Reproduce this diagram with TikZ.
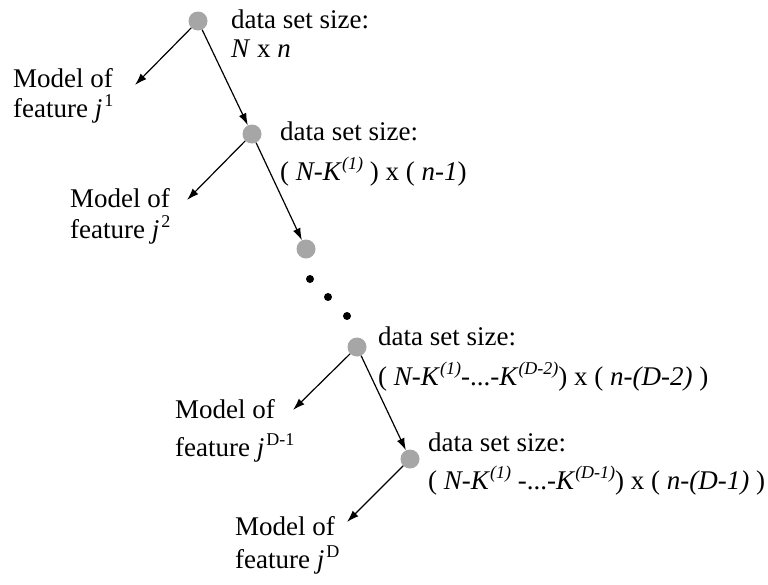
\documentclass[tikz,border=0pt]{standalone}
\usepackage{fontspec}
\setmainfont{Liberation Serif}
\usetikzlibrary{arrows.meta}

\newcommand{\up}[1]{\raisebox{11pt}{\fontsize{18}{18}\selectfont #1}}
\newcommand{\iup}[1]{\raisebox{11pt}{\fontsize{18}{18}\selectfont\itshape #1}}

\tikzset{
  dot/.style={circle, fill=gray!70, inner sep=0pt, minimum size=19pt},
  ell/.style={circle, fill=black, inner sep=0pt, minimum size=8pt},
  txt/.style={anchor=base west, inner sep=0pt, font=\fontsize{27}{33}\selectfont},
  arr/.style={-{Latex[length=12pt,width=8pt]}, line width=1.2pt}
}

\begin{document}
\begin{tikzpicture}[x=1pt,y=-1pt]
\useasboundingbox (0,0) rectangle (768,584);

% splitting points
\node[dot] (n1) at (198,21) {};
\node[dot] (n2) at (252,134) {};
\node[dot] (n3) at (306,249) {};
\node[dot] (n4) at (357,347) {};
\node[dot] (n5) at (410,459) {};

% dots in between
\foreach \i/\x/\y in {1/310/279, 2/328/297, 3/347/316}
  \node[ell] (e\i) at (\x,\y) {};

% data set sizes
\node[txt] (l1a) at (231,28) {data set size:};
\node[txt] (l1b) at (231,57) {\textit{N} x \textit{n}};
\node[txt] (l2a) at (280,140) {data set size:};
\node[txt] (l2b) at (280,180) {( \textit{N-K}\iup{(1)} ) x ( \textit{n-1})};
\node[txt] (l4a) at (378,345) {data set size:};
\node[txt] (l4b) at (378,385) {( \textit{N-K}\iup{(1)}-...-\textit{K}\iup{(D-2)}) x ( \textit{n-(D-2)} )};
\node[txt] (l5a) at (428,451) {data set size:};
\node[txt] (l5b) at (428,489) {( \textit{N-K}\iup{(1)} -...-\textit{K}\iup{(D-1)}) x ( \textit{n-(D-1)} )};

% models
\node[txt] (m1a) at (13,87) {Model of};
\node[txt] (m1b) at (13,117) {feature \textit{j}\kern2pt\up{1}};
\node[txt] (m2a) at (70,207) {Model of};
\node[txt] (m2b) at (70,238) {feature \textit{j}\kern2pt\up{2}};
\node[txt] (m4a) at (175,418) {Model of};
\node[txt] (m4b) at (175,456) {feature \textit{j}\kern2pt\up{D-1}};
\node[txt] (m5a) at (235,535) {Model of};
\node[txt] (m5b) at (235,568) {feature \textit{j}\kern2pt\up{D}};

% arrow ends
\coordinate (t1) at (135,85);
\coordinate (t2) at (187,200);
\coordinate (t4) at (293,410);
\coordinate (t5) at (347,522);

% arrows
\draw[arr] (n1) -- (t1);
\draw[arr] (n1) -- (n2);
\draw[arr] (n2) -- (t2);
\draw[arr] (n2) -- (n3);
\draw[arr] (n4) -- (t4);
\draw[arr] (n4) -- (n5);
\draw[arr] (n5) -- (t5);

\end{tikzpicture}
\end{document}
